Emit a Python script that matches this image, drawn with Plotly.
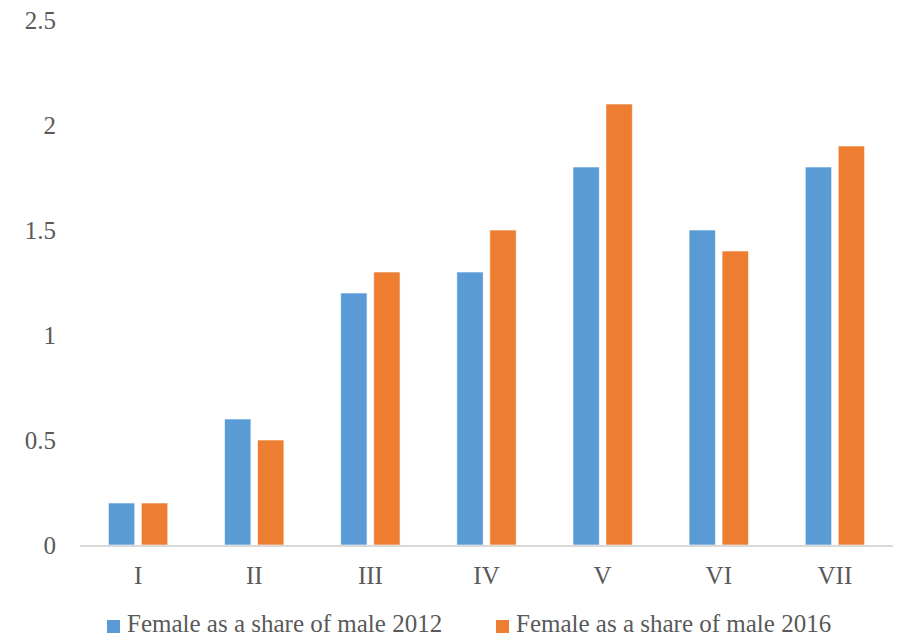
import plotly.graph_objects as go

categories = ["I", "II", "III", "IV", "V", "VI", "VII"]
share_2012 = [0.2, 0.6, 1.2, 1.3, 1.8, 1.5, 1.8]
share_2016 = [0.2, 0.5, 1.3, 1.5, 2.1, 1.4, 1.9]
series_names = ["Female as a share of male 2012", "Female as a share of male 2016"]
series_colors = ["#5B9BD5", "#ED7D31"]
y_ticks = [0, 0.5, 1, 1.5, 2, 2.5]
y_tick_text = ["0", "0.5", "1", "1.5", "2", "2.5"]

FONT = "Liberation Serif"
FONT_SIZE = 25
TEXT_COLOR = "#595959"

# plot area geometry in pixels
W, H = 900, 638
L, R, T, B = 80, 7, 20, 93
PW, PH = W - L - R, H - T - B

fig = go.Figure()
for vals, name, color in zip([share_2012, share_2016], series_names, series_colors):
    fig.add_trace(go.Bar(x=categories, y=vals, name=name, showlegend=False,
                         marker=dict(color=color,
                                     line=dict(color="rgba(255,255,255,0.6)", width=1))))

# bottom key: colour square followed by the series name
key_left = [107, 496]
for left, name, color in zip(key_left, series_names, series_colors):
    fig.add_shape(type="rect", xref="paper", yref="paper",
                  x0=(left - L) / PW, x1=(left + 13 - L) / PW,
                  y0=(H - B - 633) / PH, y1=(H - B - 620) / PH,
                  fillcolor=color, line=dict(width=0))
    fig.add_annotation(xref="paper", yref="paper",
                       x=(left + 18 - L) / PW, y=(H - B - 623) / PH,
                       xanchor="left", yanchor="middle", showarrow=False,
                       text=name, font=dict(family=FONT, size=FONT_SIZE, color=TEXT_COLOR))

fig.update_layout(
    width=W, height=H,
    margin=dict(l=L, r=R, t=T, b=B),
    paper_bgcolor="white", plot_bgcolor="white",
    barmode="group", bargap=0.432, bargroupgap=0.2,
    font=dict(family=FONT, size=FONT_SIZE, color=TEXT_COLOR),
    showlegend=False,
)
fig.update_xaxes(showline=True, linecolor="#D9D9D9", linewidth=1.5,
                 showgrid=False, ticks="", ticklabelstandoff=7,
                 tickfont=dict(family=FONT, size=FONT_SIZE, color=TEXT_COLOR))
fig.update_yaxes(range=[0, 2.5], tickvals=y_ticks, ticktext=y_tick_text,
                 showgrid=False, zeroline=False, showline=False, ticks="",
                 ticklabelstandoff=23,
                 tickfont=dict(family=FONT, size=FONT_SIZE, color=TEXT_COLOR))

fig.write_html("out.html")
